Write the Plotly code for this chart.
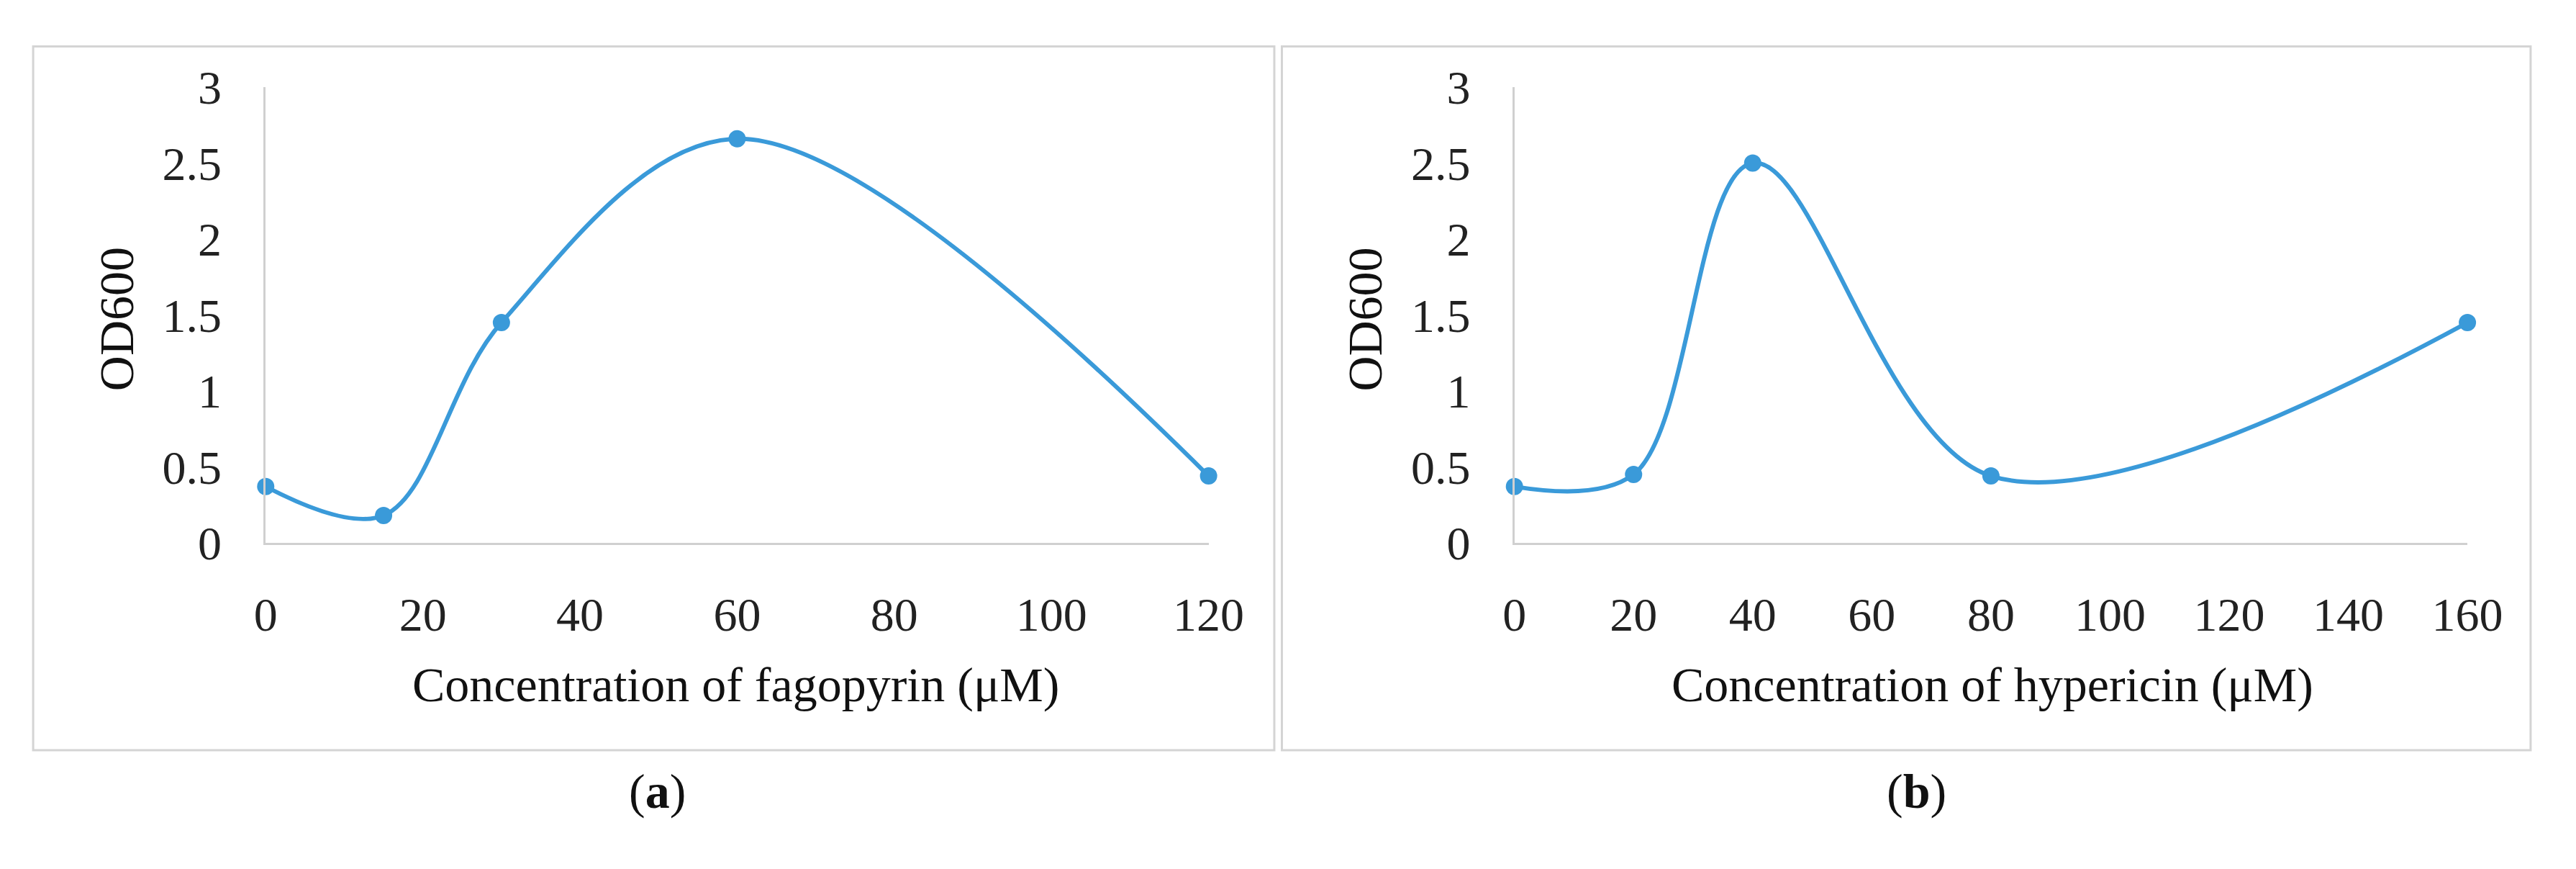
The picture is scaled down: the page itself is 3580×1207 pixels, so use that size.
import plotly.graph_objects as go

# panel (a): fagopyrin
fago_conc = [0, 15, 30, 60, 120]
fago_od = [0.37, 0.18, 1.45, 2.66, 0.44]
fago_ticks = [0, 20, 40, 60, 80, 100, 120]

# panel (b): hypericin
hyp_conc = [0, 20, 40, 80, 160]
hyp_od = [0.37, 0.45, 2.5, 0.44, 1.45]
hyp_ticks = [0, 20, 40, 60, 80, 100, 120, 140, 160]

y_ticks = [0, 0.5, 1, 1.5, 2, 2.5, 3]
y_labels = ['0', '0.5', '1', '1.5', '2', '2.5', '3']

blue = '#3A9AD9'
serif = 'Liberation Serif, DejaVu Serif, serif'

fig = go.Figure()
fig.add_trace(go.Scatter(x=fago_conc, y=fago_od, mode='lines+markers',
                         line=dict(shape='spline', smoothing=1.0, color=blue, width=6),
                         marker=dict(size=24, color=blue), xaxis='x', yaxis='y',
                         cliponaxis=False, showlegend=False))
fig.add_trace(go.Scatter(x=hyp_conc, y=hyp_od, mode='lines+markers',
                         line=dict(shape='spline', smoothing=1.0, color=blue, width=6),
                         marker=dict(size=24, color=blue), xaxis='x2', yaxis='y2',
                         cliponaxis=False, showlegend=False))

axis_common = dict(showgrid=False, zeroline=False, showline=True, linecolor='#d0d0d0',
                   linewidth=3, ticks='', tickfont=dict(family=serif, size=66, color='#222'))
fig.update_layout(
    width=3580, height=1207,
    margin=dict(l=0, r=0, t=0, b=0),
    paper_bgcolor='white', plot_bgcolor='white',
    xaxis=dict(domain=[0.098, 0.471], range=[0, 120], tickvals=fago_ticks,
               anchor='y', ticklabelstandoff=40, **axis_common),
    yaxis=dict(domain=[0.374, 0.932], range=[0, 3], tickvals=y_ticks, ticktext=y_labels,
               anchor='x', ticklabelstandoff=45, **axis_common),
    xaxis2=dict(domain=[0.592, 0.969], range=[0, 160], tickvals=hyp_ticks,
                anchor='y2', ticklabelstandoff=40, **axis_common),
    yaxis2=dict(domain=[0.374, 0.932], range=[0, 3], tickvals=y_ticks, ticktext=y_labels,
                anchor='x2', ticklabelstandoff=45, **axis_common),
    shapes=[
        dict(type='rect', xref='paper', yref='paper', x0=0.006, x1=0.497, y0=0.12, y1=0.982,
             line=dict(color='#d4d4d4', width=3)),
        dict(type='rect', xref='paper', yref='paper', x0=0.500, x1=0.994, y0=0.12, y1=0.982,
             line=dict(color='#d4d4d4', width=3)),
    ],
)

txt = dict(family=serif, size=68, color='#111')
annotations = [
    dict(text='Concentration of fagopyrin (μM)', x=0.284, y=0.20),
    dict(text='Concentration of hypericin (μM)', x=0.781, y=0.20),
    dict(text='OD600', x=0.039, y=0.648, textangle=-90),
    dict(text='OD600', x=0.533, y=0.648, textangle=-90),
    dict(text='(<b>a</b>)', x=0.253, y=0.07),
    dict(text='(<b>b</b>)', x=0.751, y=0.07),
]
for a in annotations:
    fig.add_annotation(xref='paper', yref='paper', showarrow=False, font=txt,
                       xanchor='center', yanchor='middle', **a)

fig.write_html('out.html')
